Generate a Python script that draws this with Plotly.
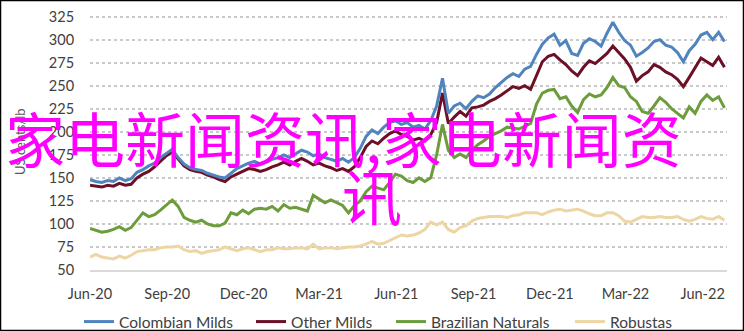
import pandas as pd
import plotly.graph_objects as go

# ---- data (US cents/lb, weekly readings) ----
start_date = "2020-06-01"
n_weeks = 109

colombian_milds = [
    148, 146, 145, 147, 146, 150, 147, 149, 156, 159,
    163, 166, 172, 177, 181, 172, 165, 161, 159, 158,
    155, 153, 151, 150, 155, 160, 163, 166, 168, 165,
    167, 170, 172, 175, 172, 176, 180, 178, 174, 176,
    172, 170, 168, 171, 167, 172, 182, 195, 202, 198,
    205, 210, 212, 208, 210, 205, 207, 203, 212, 228,
    258, 220, 228, 231, 225, 233, 239, 237, 241, 248,
    254, 259, 263, 260, 268, 271, 284, 295, 302, 306,
    294, 299, 285, 283, 296, 301, 298, 293, 307, 319,
    308, 299, 294, 282, 286, 291, 298, 300, 294, 292,
    286, 276, 288, 295, 305, 308, 300, 308, 298,
]

other_milds = [
    142, 141, 140, 142, 141, 144, 142, 143, 150, 154,
    157, 162, 168, 174, 178, 170, 163, 159, 157, 156,
    153, 151, 148, 146, 151, 154, 157, 160, 159, 157,
    159, 162, 164, 167, 164, 168, 171, 168, 164, 166,
    163, 161, 158, 160, 157, 162, 172, 184, 190, 187,
    193, 198, 201, 197, 195, 191, 193, 190, 197, 210,
    242, 209, 216, 222, 217, 226, 227, 229, 233, 236,
    240, 245, 249, 247, 250, 246, 262, 276, 282, 284,
    278, 273, 266, 261, 270, 277, 274, 280, 285, 293,
    286, 279, 270, 255, 261, 265, 273, 270, 265, 262,
    257, 249, 259, 270, 280, 276, 272, 281, 270,
]

brazilian_naturals = [
    95, 93, 91, 92, 94, 97, 93, 96, 104, 112,
    108, 110, 115, 121, 126, 119, 107, 104, 102, 104,
    100, 98, 98, 101, 112, 110, 115, 111, 116, 117,
    116, 119, 114, 121, 117, 118, 116, 114, 131, 127,
    123, 126, 123, 120, 112, 120, 125, 135, 141, 139,
    137, 145, 154, 152, 147, 145, 150, 146, 150, 175,
    208, 180, 172, 176, 172, 180, 186, 190, 195, 198,
    201, 205, 204, 203, 206, 209, 230, 242, 245, 246,
    236, 238, 228, 221, 235, 241, 238, 240, 248, 259,
    250, 248, 238, 233, 222, 220, 228, 237, 232, 225,
    220, 215, 227, 220, 233, 240, 234, 238, 226,
]

robustas = [
    64, 67, 64, 63, 62, 65, 63, 66, 70, 71,
    72, 72, 74, 75, 75, 76, 72, 70, 71, 68,
    70, 71, 72, 75, 73, 71, 73, 74, 72, 70,
    72, 72, 74, 73, 73, 74, 74, 73, 78, 73,
    74, 74, 73, 74, 75, 75, 76, 78, 81, 78,
    79, 82, 85, 88, 87, 88, 90, 94, 102, 99,
    102, 94, 91, 96, 98, 103, 106, 107, 108, 108,
    108, 107, 109, 110, 112, 112, 112, 110, 113, 115,
    116, 114, 115, 116, 114, 111, 109, 109, 112, 112,
    109, 103, 102, 105, 108, 107, 107, 108, 107, 107,
    108, 105, 103, 105, 108, 106, 105, 108, 104,
]

series_names = ["Colombian Milds", "Other Milds", "Brazilian Naturals", "Robustas"]
series_values = [colombian_milds, other_milds, brazilian_naturals, robustas]
series_colors = ["#4F84BE", "#6B1026", "#6C9C3B", "#EDD6A3"]
legend_widths = [127, 95, 134, 62]

tick_dates = ["2020-06-01", "2020-09-01", "2020-12-01", "2021-03-01", "2021-06-01",
              "2021-09-01", "2021-12-01", "2022-03-01", "2022-06-01"]
tick_labels = ["Jun-20", "Sep-20", "Dec-20", "Mar-21", "Jun-21",
               "Sep-21", "Dec-21", "Mar-22", "Jun-22"]
y_ticks = [50, 75, 100, 125, 150, 175, 200, 225, 250, 275, 300, 325]

y_title = "US cents/lb"
overlay_line1 = "家电新闻资讯,家电新闻资"
overlay_line2 = "讯"

dates = pd.date_range(start_date, periods=n_weeks, freq="7D")

# ---- layout geometry ----
W, H = 744, 331
ML, MR, MT, MB = 90, 17, 12, 61
PW, PH = W - ML - MR, H - MT - MB


def px(xp):
    return (xp - ML) / PW


def py(yp):
    return (H - MB - yp) / PH


fig = go.Figure()
# draw in reverse so Colombian Milds sits on top
for name, vals, col, lw in reversed(list(zip(series_names, series_values,
                                               series_colors, legend_widths))):
    fig.add_trace(go.Scatter(
        x=dates, y=vals, name=name, mode="lines",
        line=dict(color=col, width=3), legendwidth=lw,
    ))

fig.update_layout(
    width=W, height=H,
    margin=dict(l=ML, r=MR, t=MT, b=MB, autoexpand=False),
    paper_bgcolor="white", plot_bgcolor="white",
    font=dict(family="Lato, sans-serif", size=14, color="#404040"),
    showlegend=True,
    legend=dict(
        orientation="h", traceorder="reversed",
        x=px(378), xanchor="center", y=py(322), yanchor="middle",
        font=dict(size=15.5, color="#404040"),
        bgcolor="rgba(0,0,0,0)", itemwidth=30,
    ),
    xaxis=dict(
        range=["2020-06-01", "2022-06-30"],
        tickvals=tick_dates, ticktext=tick_labels,
        showgrid=False, zeroline=False,
        showline=True, linecolor="#D9D9D9", linewidth=2,
        ticks="outside", ticklen=10, tickcolor="rgba(0,0,0,0)",
        tickfont=dict(size=14.5, color="#404040"),
    ),
    yaxis=dict(
        range=[50, 330], tickvals=y_ticks,
        showgrid=True, gridcolor="#C9C9C9", gridwidth=2, griddash="dot",
        zeroline=False, showline=False,
        ticks="outside", ticklen=12, tickcolor="rgba(0,0,0,0)",
        tickfont=dict(size=14.5, color="#404040"),
    ),
)

# y-axis title
fig.add_annotation(
    text=y_title, xref="paper", yref="paper", x=px(20), y=py(142),
    xanchor="center", yanchor="middle", textangle=-90, showarrow=False,
    font=dict(family="Lato, sans-serif", size=13, color="#595959"),
)

# overlay text
fig.add_annotation(
    text=overlay_line1, xref="paper", yref="paper", x=px(3), y=py(136),
    xanchor="left", yanchor="middle", showarrow=False,
    font=dict(family="Noto Sans CJK SC", size=60, color="#FF00FF"),
)
fig.add_annotation(
    text=overlay_line2, xref="paper", yref="paper", x=px(372), y=py(195),
    xanchor="center", yanchor="middle", showarrow=False,
    font=dict(family="Noto Sans CJK SC", size=60, color="#FF00FF"),
)

# outer black frame
fig.add_shape(
    type="rect", xref="paper", yref="paper",
    x0=px(0.5), x1=px(W - 0.5), y0=py(H - 0.5), y1=py(0.5),
    line=dict(color="black", width=1.5), fillcolor="rgba(0,0,0,0)", layer="above",
)

fig.write_html("out.html")
